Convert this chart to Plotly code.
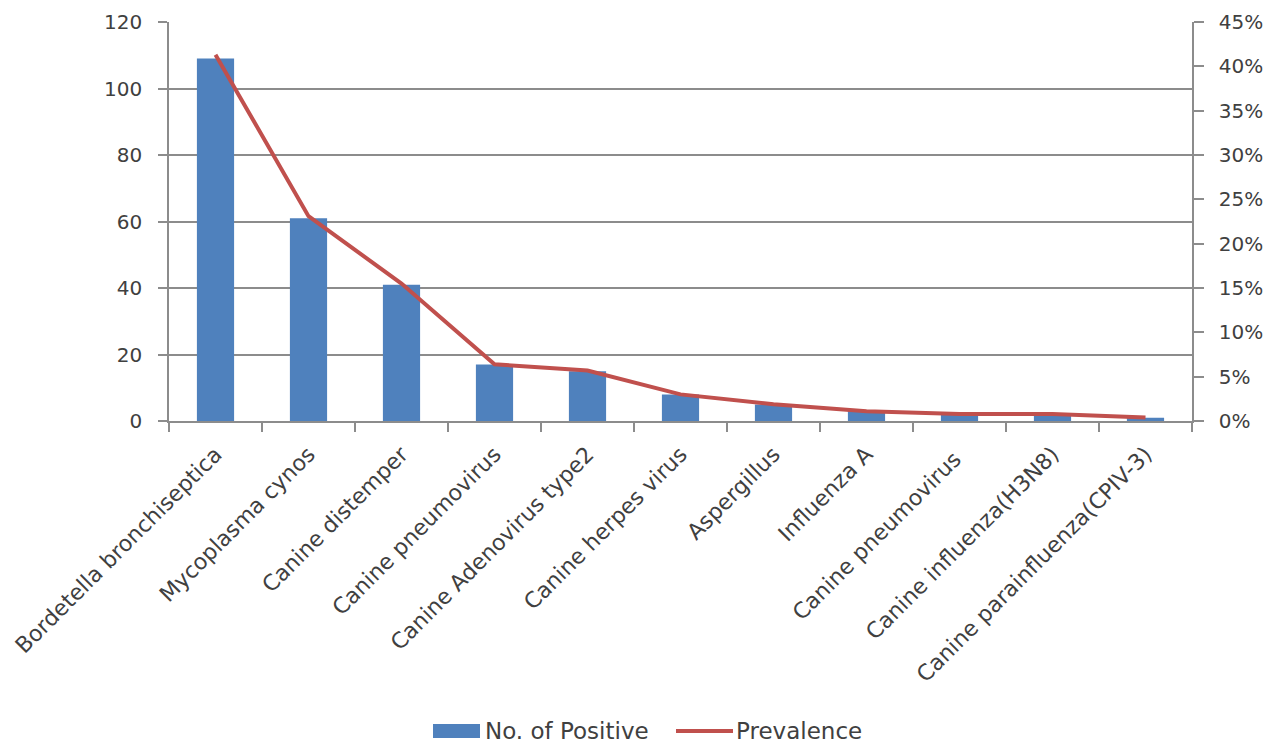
import plotly.graph_objects as go

# Pathogens detected, ordered by count
categories = [
    "Bordetella bronchiseptica",
    "Mycoplasma cynos",
    "Canine distemper",
    "Canine pneumovirus",
    "Canine Adenovirus type2",
    "Canine herpes virus",
    "Aspergillus",
    "Influenza A",
    "Canine pneumovirus ",
    "Canine influenza(H3N8)",
    "Canine parainfluenza(CPIV-3)",
]
positives = [109, 61, 41, 17, 15, 8, 5, 3, 2, 2, 1]
prevalence_pct = [41.3, 23.1, 15.5, 6.4, 5.7, 3.0, 1.9, 1.1, 0.8, 0.8, 0.4]

left_ticks = [0, 20, 40, 60, 80, 100, 120]
right_ticks = [0, 5, 10, 15, 20, 25, 30, 35, 40, 45]
right_labels = ["0%", "5%", "10%", "15%", "20%", "25%", "30%", "35%", "40%", "45%"]

BAR_COLOR = "#4F81BD"
LINE_COLOR = "#C0504D"
AXIS_COLOR = "#8C8C8C"
TEXT_COLOR = "#404040"
FONT = "DejaVu Sans, Open Sans, sans-serif"

W, H = 1278, 748
ML, MR, MT, MB = 169, 86, 22, 327
PW, PH = W - ML - MR, H - MT - MB


def px_x(px):
    """Pixel column -> paper x."""
    return (px - ML) / PW


def px_y(py):
    """Pixel row -> paper y."""
    return (H - MB - py) / PH


fig = go.Figure()
fig.add_trace(go.Bar(
    x=categories, y=positives, name="No. of Positive",
    marker=dict(color=BAR_COLOR, line=dict(width=0)),
    yaxis="y",
))
fig.add_trace(go.Scatter(
    x=categories, y=prevalence_pct, name="Prevalence",
    mode="lines", line=dict(color=LINE_COLOR, width=4),
    yaxis="y2",
))

# Legend drawn by hand: wide swatch for the bars, a short stroke for the line
legend_y = 731
shapes = [
    dict(type="rect", xref="paper", yref="paper",
         x0=px_x(433), x1=px_x(480), y0=px_y(738), y1=px_y(724),
         fillcolor=BAR_COLOR, line=dict(width=0)),
    dict(type="line", xref="paper", yref="paper",
         x0=px_x(676), x1=px_x(733), y0=px_y(legend_y), y1=px_y(legend_y),
         line=dict(color=LINE_COLOR, width=4)),
]
annotations = [
    dict(text="No. of Positive", xref="paper", yref="paper",
         x=px_x(483), y=px_y(legend_y), xanchor="left", yanchor="middle",
         showarrow=False, font=dict(size=23, color=TEXT_COLOR)),
    dict(text="Prevalence", xref="paper", yref="paper",
         x=px_x(734), y=px_y(legend_y), xanchor="left", yanchor="middle",
         showarrow=False, font=dict(size=23, color=TEXT_COLOR)),
]

fig.update_layout(
    width=W, height=H,
    margin=dict(l=ML, r=MR, t=MT, b=MB),
    paper_bgcolor="white", plot_bgcolor="white",
    font=dict(family=FONT, size=20, color=TEXT_COLOR),
    bargap=0.6,
    showlegend=False,
    shapes=shapes,
    annotations=annotations,
    xaxis=dict(
        type="category", automargin=False,
        tickangle=-45,
        showline=True, linecolor=AXIS_COLOR, linewidth=1.5,
        ticks="outside", tickson="boundaries", ticklen=9,
        tickcolor=AXIS_COLOR, tickwidth=1.5,
        ticklabelstandoff=10,
        showgrid=False,
        tickfont=dict(size=22, color=TEXT_COLOR),
    ),
    yaxis=dict(
        range=[0, 120], tickvals=left_ticks, automargin=False,
        showline=True, linecolor=AXIS_COLOR, linewidth=1.5,
        ticks="outside", ticklen=9, tickcolor=AXIS_COLOR, tickwidth=1.5,
        showgrid=True, gridcolor=AXIS_COLOR, gridwidth=1.5,
        zeroline=False,
        ticklabelstandoff=12,
        tickfont=dict(size=20, color=TEXT_COLOR),
    ),
    yaxis2=dict(
        range=[0, 45], tickvals=right_ticks, ticktext=right_labels,
        overlaying="y", side="right", automargin=False,
        showline=True, linecolor=AXIS_COLOR, linewidth=1.5,
        ticks="outside", ticklen=10, tickcolor=AXIS_COLOR, tickwidth=1.5,
        showgrid=False, zeroline=False,
        ticklabelstandoff=11,
        tickfont=dict(size=20, color=TEXT_COLOR),
    ),
)

fig.write_html("out.html")
